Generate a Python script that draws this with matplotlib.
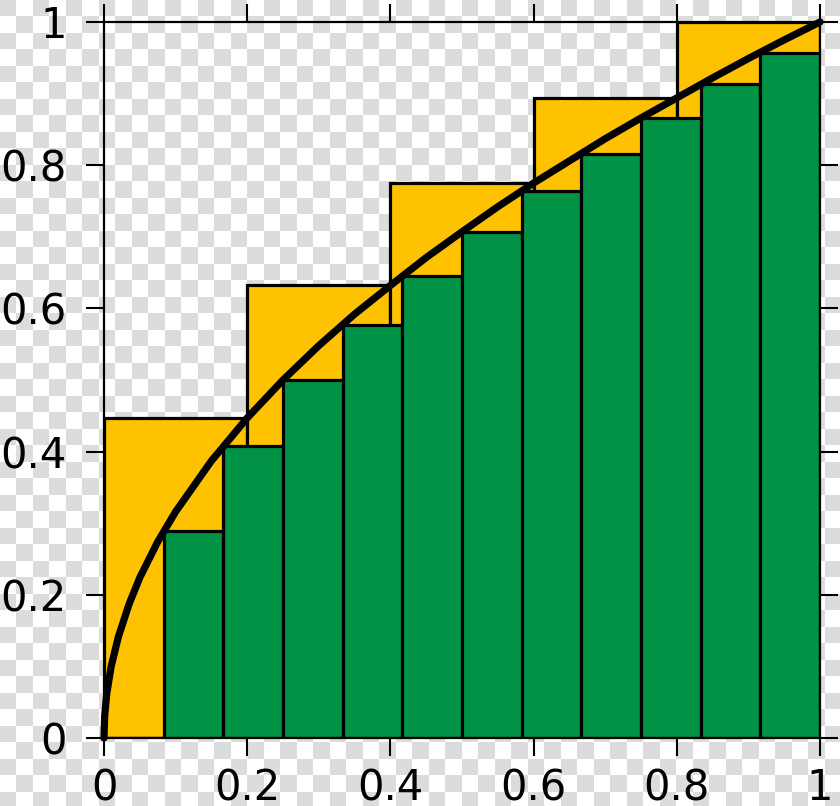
import numpy as np
import matplotlib
matplotlib.use("Agg")
import matplotlib.pyplot as plt

# upper sum: 5 boxes, lower sum: 12 boxes (heights)
upper_left = [0.0, 0.2, 0.4, 0.6, 0.8]
upper_h = [0.447, 0.632, 0.775, 0.894, 1.0]
lower_left = [0/12, 1/12, 2/12, 3/12, 4/12, 5/12, 6/12, 7/12, 8/12, 9/12, 10/12, 11/12]
lower_h = [0.0, 0.289, 0.408, 0.5, 0.577, 0.645, 0.707, 0.764, 0.816, 0.866, 0.913, 0.957]

# the curve
curve_x = [0, 0.001, 0.004, 0.01, 0.02, 0.035, 0.05, 0.075, 0.1, 0.15, 0.2, 0.25, 0.3,
           0.35, 0.4, 0.45, 0.5, 0.55, 0.6, 0.65, 0.7, 0.75, 0.8, 0.85, 0.9, 0.95, 1.0]
curve_y = [0, 0.032, 0.063, 0.1, 0.141, 0.187, 0.224, 0.274, 0.316, 0.387, 0.447, 0.5, 0.548,
           0.592, 0.632, 0.671, 0.707, 0.742, 0.775, 0.806, 0.837, 0.866, 0.894, 0.922, 0.949, 0.975, 1.0]

ticks = [0, 0.2, 0.4, 0.6, 0.8, 1]
tick_labels = ["0", "0.2", "0.4", "0.6", "0.8", "1"]

fig = plt.figure(figsize=(8.4, 8.06), dpi=100)

# checkerboard background (transparency pattern)
cell = 16.5
ny, nx = int(806 / cell) + 1, int(840 / cell) + 1
checker = (np.indices((ny, nx)).sum(axis=0) % 2)
bg = fig.add_axes([0, 0, 1, 1], zorder=-5)
bg.imshow(checker, cmap=matplotlib.colors.ListedColormap(["#dcdcdc", "#ffffff"]),
          extent=[0, nx * cell, ny * cell, 0], interpolation="nearest", aspect="auto")
bg.set_xlim(0, 840)
bg.set_ylim(806, 0)
bg.axis("off")

ax = fig.add_axes([104 / 840, 68 / 806, 716 / 840, 716 / 806])
ax.patch.set_alpha(0)

ax.bar(upper_left, upper_h, width=0.2, align="edge", color="#ffc200",
       edgecolor="black", linewidth=2.3, zorder=2)
ax.bar(lower_left, lower_h, width=1 / 12, align="edge", color="#009245",
       edgecolor="black", linewidth=2.3, zorder=3)
ax.plot(curve_x, curve_y, color="black", linewidth=5.2, solid_capstyle="round",
        zorder=4, clip_on=False)

ax.set_xlim(0, 1)
ax.set_ylim(0, 1)
ax.set_xticks(ticks)
ax.set_xticklabels(tick_labels)
ax.set_yticks(ticks)
ax.set_yticklabels(tick_labels)
ax.tick_params(direction="out", length=13, width=1.5, labelsize=30, pad=8,
               top=True, right=True)
ax.tick_params(axis="y", pad=14)
for s in ax.spines.values():
    s.set_linewidth(1.6)
    s.set_zorder(5)

fig.savefig("out.png", dpi=100)
